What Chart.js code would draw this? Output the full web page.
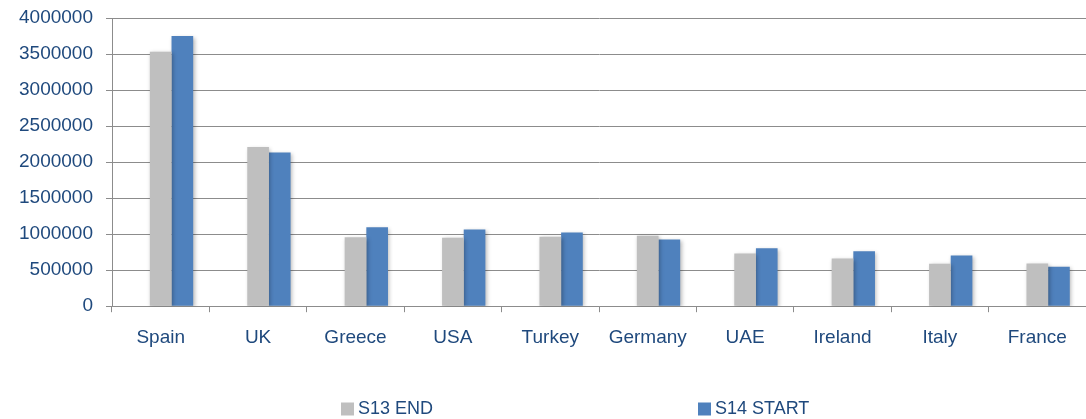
<!DOCTYPE html>
<html>
<head>
<meta charset="utf-8">
<script src="https://cdn.jsdelivr.net/npm/chart.js@4/dist/chart.umd.min.js"></script>
<style>
  html, body { margin: 0; padding: 0; background: #ffffff; }
  #wrap { width: 1086px; height: 419px; position: relative; }
</style>
</head>
<body>
<div id="wrap"><canvas id="c" width="1086" height="419"></canvas></div>
<script>
const categories = ['Spain', 'UK', 'Greece', 'USA', 'Turkey', 'Germany', 'UAE', 'Ireland', 'Italy', 'France'];
const s13End = [3532000, 2208000, 958000, 949000, 963000, 977000, 731000, 662000, 588000, 593000];
const s14Start = [3750000, 2134000, 1097000, 1065000, 1023000, 926000, 806000, 764000, 704000, 546000];
const seriesNames = ['S13 END', 'S14 START'];
const yTicks = [0, 500000, 1000000, 1500000, 2000000, 2500000, 3000000, 3500000, 4000000];

const TEXT = '#1F497D';
const FONT = "'Liberation Sans', Arial, sans-serif";
const GRID = '#8c8c8c';

const shadowPlugin = {
  id: 'barShadow',
  beforeDatasetsDraw(chart) {
    const ctx = chart.ctx;
    ctx.save();
    ctx.shadowColor = 'rgba(0,0,0,0.28)';
    ctx.shadowBlur = 4;
    ctx.shadowOffsetX = 1.5;
    ctx.shadowOffsetY = 1.5;
  },
  afterDatasetsDraw(chart) {
    chart.ctx.restore();
  }
};

const legendPlugin = {
  id: 'bottomLegend',
  afterDraw(chart, args, opts) {
    const ctx = chart.ctx;
    const items = chart.data.datasets.filter(d => d.data.length > 0);
    ctx.save();
    ctx.font = opts.fontSize + 'px ' + FONT;
    ctx.textBaseline = 'middle';
    ctx.textAlign = 'left';
    items.forEach((d, i) => {
      const x = opts.xs[i];
      const y = opts.y;
      ctx.fillStyle = d.backgroundColor;
      ctx.fillRect(x, y - opts.box / 2, opts.box, opts.box);
      ctx.fillStyle = TEXT;
      ctx.fillText(d.label, x + opts.box + 4, y);
    });
    ctx.restore();
  }
};

new Chart(document.getElementById('c'), {
  type: 'bar',
  data: {
    labels: categories,
    datasets: [
      { label: '', data: [], backgroundColor: 'rgba(0,0,0,0)' },
      { label: seriesNames[0], data: s13End, backgroundColor: '#BFBFBF', borderWidth: 0 },
      { label: seriesNames[1], data: s14Start, backgroundColor: '#4F81BD', borderWidth: 0 }
    ]
  },
  plugins: [shadowPlugin, legendPlugin],
  options: {
    responsive: false,
    animation: false,
    events: [],
    categoryPercentage: 0.667,
    barPercentage: 1.0,
    layout: { padding: { left: 0, right: 0, top: 18, bottom: 56 } },
    plugins: {
      legend: { display: false },
      tooltip: { enabled: false },
      title: { display: false },
      bottomLegend: { xs: [341, 698], y: 409, box: 13, fontSize: 18 }
    },
    scales: {
      x: {
        offset: true,
        grid: { display: true, drawOnChartArea: false, drawTicks: true, tickLength: 6, color: GRID, offset: true },
        border: { display: true, color: GRID, width: 1 },
        ticks: { color: TEXT, font: { family: FONT, size: 19 }, padding: 14, maxRotation: 0, autoSkip: false }
      },
      y: {
        min: 0,
        max: 4000000,
        afterBuildTicks(scale) { scale.ticks = yTicks.map(v => ({ value: v })); },
        afterFit(scale) { scale.width = 112; scale.paddingTop = 0; scale.paddingBottom = 0; },
        grid: { color: GRID, lineWidth: 1, drawTicks: true, tickLength: 6 },
        border: { display: true, color: GRID, width: 1 },
        ticks: { color: TEXT, font: { family: FONT, size: 19 }, padding: 13, callback: v => String(v) }
      }
    }
  }
});
</script>
</body>
</html>
